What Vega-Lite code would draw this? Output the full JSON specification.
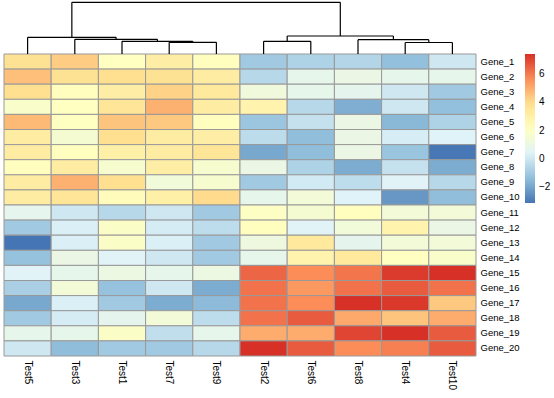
{
  "$schema": "https://vega.github.io/schema/vega-lite/v6.json",
  "width": 472,
  "height": 356,
  "autosize": "none",
  "padding": {"left": 4, "top": 0, "right": 78, "bottom": 42},
  "background": "white",
  "config": {
    "view": {"stroke": null},
    "font": "Liberation Sans",
    "axis": {"labelFont": "Liberation Sans", "labelColor": "black"},
    "legend": {"labelFont": "Liberation Sans", "labelColor": "black"}
  },
  "datasets": {
    "expr": [
      {"gene":"Gene_1","test":"Test5","value":3.8},{"gene":"Gene_1","test":"Test3","value":4.3},{"gene":"Gene_1","test":"Test1","value":2.1},{"gene":"Gene_1","test":"Test7","value":3.1},{"gene":"Gene_1","test":"Test9","value":2.2},{"gene":"Gene_1","test":"Test2","value":-1.0},{"gene":"Gene_1","test":"Test6","value":-0.7},{"gene":"Gene_1","test":"Test8","value":-0.6},{"gene":"Gene_1","test":"Test4","value":-1.3},{"gene":"Gene_1","test":"Test10","value":0.0},
      {"gene":"Gene_2","test":"Test5","value":4.6},{"gene":"Gene_2","test":"Test3","value":3.8},{"gene":"Gene_2","test":"Test1","value":3.9},{"gene":"Gene_2","test":"Test7","value":3.8},{"gene":"Gene_2","test":"Test9","value":3.2},{"gene":"Gene_2","test":"Test2","value":-0.5},{"gene":"Gene_2","test":"Test6","value":0.8},{"gene":"Gene_2","test":"Test8","value":1.0},{"gene":"Gene_2","test":"Test4","value":0.8},{"gene":"Gene_2","test":"Test10","value":0.8},
      {"gene":"Gene_3","test":"Test5","value":3.9},{"gene":"Gene_3","test":"Test3","value":2.2},{"gene":"Gene_3","test":"Test1","value":3.1},{"gene":"Gene_3","test":"Test7","value":4.2},{"gene":"Gene_3","test":"Test9","value":3.4},{"gene":"Gene_3","test":"Test2","value":1.3},{"gene":"Gene_3","test":"Test6","value":0.8},{"gene":"Gene_3","test":"Test8","value":0.7},{"gene":"Gene_3","test":"Test4","value":0.0},{"gene":"Gene_3","test":"Test10","value":-1.0},
      {"gene":"Gene_4","test":"Test5","value":1.8},{"gene":"Gene_4","test":"Test3","value":2.1},{"gene":"Gene_4","test":"Test1","value":3.6},{"gene":"Gene_4","test":"Test7","value":4.9},{"gene":"Gene_4","test":"Test9","value":3.2},{"gene":"Gene_4","test":"Test2","value":2.8},{"gene":"Gene_4","test":"Test6","value":-0.5},{"gene":"Gene_4","test":"Test8","value":-1.75},{"gene":"Gene_4","test":"Test4","value":0.0},{"gene":"Gene_4","test":"Test10","value":-1.3},
      {"gene":"Gene_5","test":"Test5","value":4.7},{"gene":"Gene_5","test":"Test3","value":2.1},{"gene":"Gene_5","test":"Test1","value":4.5},{"gene":"Gene_5","test":"Test7","value":4.4},{"gene":"Gene_5","test":"Test9","value":2.2},{"gene":"Gene_5","test":"Test2","value":-1.1},{"gene":"Gene_5","test":"Test6","value":-0.2},{"gene":"Gene_5","test":"Test8","value":1.0},{"gene":"Gene_5","test":"Test4","value":-1.5},{"gene":"Gene_5","test":"Test10","value":-0.7},
      {"gene":"Gene_6","test":"Test5","value":3.2},{"gene":"Gene_6","test":"Test3","value":1.6},{"gene":"Gene_6","test":"Test1","value":3.9},{"gene":"Gene_6","test":"Test7","value":3.2},{"gene":"Gene_6","test":"Test9","value":3.1},{"gene":"Gene_6","test":"Test2","value":-0.4},{"gene":"Gene_6","test":"Test6","value":-1.35},{"gene":"Gene_6","test":"Test8","value":1.0},{"gene":"Gene_6","test":"Test4","value":0.2},{"gene":"Gene_6","test":"Test10","value":0.4},
      {"gene":"Gene_7","test":"Test5","value":3.2},{"gene":"Gene_7","test":"Test3","value":2.2},{"gene":"Gene_7","test":"Test1","value":3.0},{"gene":"Gene_7","test":"Test7","value":3.2},{"gene":"Gene_7","test":"Test9","value":3.6},{"gene":"Gene_7","test":"Test2","value":-1.9},{"gene":"Gene_7","test":"Test6","value":-1.35},{"gene":"Gene_7","test":"Test8","value":1.0},{"gene":"Gene_7","test":"Test4","value":-1.15},{"gene":"Gene_7","test":"Test10","value":-3.05},
      {"gene":"Gene_8","test":"Test5","value":2.2},{"gene":"Gene_8","test":"Test3","value":3.2},{"gene":"Gene_8","test":"Test1","value":1.7},{"gene":"Gene_8","test":"Test7","value":3.1},{"gene":"Gene_8","test":"Test9","value":1.7},{"gene":"Gene_8","test":"Test2","value":1.0},{"gene":"Gene_8","test":"Test6","value":-0.7},{"gene":"Gene_8","test":"Test8","value":-1.8},{"gene":"Gene_8","test":"Test4","value":-0.2},{"gene":"Gene_8","test":"Test10","value":-1.8},
      {"gene":"Gene_9","test":"Test5","value":3.2},{"gene":"Gene_9","test":"Test3","value":4.9},{"gene":"Gene_9","test":"Test1","value":3.9},{"gene":"Gene_9","test":"Test7","value":1.35},{"gene":"Gene_9","test":"Test9","value":1.7},{"gene":"Gene_9","test":"Test2","value":-1.0},{"gene":"Gene_9","test":"Test6","value":0.1},{"gene":"Gene_9","test":"Test8","value":-0.35},{"gene":"Gene_9","test":"Test4","value":0.45},{"gene":"Gene_9","test":"Test10","value":-0.5},
      {"gene":"Gene_10","test":"Test5","value":3.2},{"gene":"Gene_10","test":"Test3","value":3.6},{"gene":"Gene_10","test":"Test1","value":2.3},{"gene":"Gene_10","test":"Test7","value":3.0},{"gene":"Gene_10","test":"Test9","value":4.0},{"gene":"Gene_10","test":"Test2","value":0.8},{"gene":"Gene_10","test":"Test6","value":1.4},{"gene":"Gene_10","test":"Test8","value":0.4},{"gene":"Gene_10","test":"Test4","value":-2.3},{"gene":"Gene_10","test":"Test10","value":-1.35},
      {"gene":"Gene_11","test":"Test5","value":0.75},{"gene":"Gene_11","test":"Test3","value":0.0},{"gene":"Gene_11","test":"Test1","value":-0.5},{"gene":"Gene_11","test":"Test7","value":0.0},{"gene":"Gene_11","test":"Test9","value":-1.0},{"gene":"Gene_11","test":"Test2","value":2.0},{"gene":"Gene_11","test":"Test6","value":1.6},{"gene":"Gene_11","test":"Test8","value":2.2},{"gene":"Gene_11","test":"Test4","value":1.4},{"gene":"Gene_11","test":"Test10","value":1.4},
      {"gene":"Gene_12","test":"Test5","value":-1.0},{"gene":"Gene_12","test":"Test3","value":0.3},{"gene":"Gene_12","test":"Test1","value":1.9},{"gene":"Gene_12","test":"Test7","value":0.15},{"gene":"Gene_12","test":"Test9","value":-0.35},{"gene":"Gene_12","test":"Test2","value":2.2},{"gene":"Gene_12","test":"Test6","value":0.45},{"gene":"Gene_12","test":"Test8","value":1.35},{"gene":"Gene_12","test":"Test4","value":2.8},{"gene":"Gene_12","test":"Test10","value":1.0},
      {"gene":"Gene_13","test":"Test5","value":-3.1},{"gene":"Gene_13","test":"Test3","value":0.3},{"gene":"Gene_13","test":"Test1","value":1.9},{"gene":"Gene_13","test":"Test7","value":0.3},{"gene":"Gene_13","test":"Test9","value":-1.0},{"gene":"Gene_13","test":"Test2","value":1.2},{"gene":"Gene_13","test":"Test6","value":3.4},{"gene":"Gene_13","test":"Test8","value":0.7},{"gene":"Gene_13","test":"Test4","value":1.4},{"gene":"Gene_13","test":"Test10","value":1.4},
      {"gene":"Gene_14","test":"Test5","value":-1.25},{"gene":"Gene_14","test":"Test3","value":1.0},{"gene":"Gene_14","test":"Test1","value":0.45},{"gene":"Gene_14","test":"Test7","value":0.0},{"gene":"Gene_14","test":"Test9","value":-1.0},{"gene":"Gene_14","test":"Test2","value":0.8},{"gene":"Gene_14","test":"Test6","value":2.8},{"gene":"Gene_14","test":"Test8","value":3.4},{"gene":"Gene_14","test":"Test4","value":2.1},{"gene":"Gene_14","test":"Test10","value":1.8},
      {"gene":"Gene_15","test":"Test5","value":0.45},{"gene":"Gene_15","test":"Test3","value":0.8},{"gene":"Gene_15","test":"Test1","value":1.1},{"gene":"Gene_15","test":"Test7","value":0.8},{"gene":"Gene_15","test":"Test9","value":1.1},{"gene":"Gene_15","test":"Test2","value":6.4},{"gene":"Gene_15","test":"Test6","value":5.65},{"gene":"Gene_15","test":"Test8","value":6.1},{"gene":"Gene_15","test":"Test4","value":7.2},{"gene":"Gene_15","test":"Test10","value":7.4},
      {"gene":"Gene_16","test":"Test5","value":-0.8},{"gene":"Gene_16","test":"Test3","value":1.4},{"gene":"Gene_16","test":"Test1","value":-1.25},{"gene":"Gene_16","test":"Test7","value":0.0},{"gene":"Gene_16","test":"Test9","value":-1.8},{"gene":"Gene_16","test":"Test2","value":6.15},{"gene":"Gene_16","test":"Test6","value":5.4},{"gene":"Gene_16","test":"Test8","value":6.15},{"gene":"Gene_16","test":"Test4","value":6.6},{"gene":"Gene_16","test":"Test10","value":6.15},
      {"gene":"Gene_17","test":"Test5","value":-1.9},{"gene":"Gene_17","test":"Test3","value":0.3},{"gene":"Gene_17","test":"Test1","value":-1.0},{"gene":"Gene_17","test":"Test7","value":-1.8},{"gene":"Gene_17","test":"Test9","value":-1.45},{"gene":"Gene_17","test":"Test2","value":6.15},{"gene":"Gene_17","test":"Test6","value":5.65},{"gene":"Gene_17","test":"Test8","value":7.4},{"gene":"Gene_17","test":"Test4","value":7.25},{"gene":"Gene_17","test":"Test10","value":4.4},
      {"gene":"Gene_18","test":"Test5","value":-1.0},{"gene":"Gene_18","test":"Test3","value":0.15},{"gene":"Gene_18","test":"Test1","value":0.7},{"gene":"Gene_18","test":"Test7","value":1.4},{"gene":"Gene_18","test":"Test9","value":-0.35},{"gene":"Gene_18","test":"Test2","value":6.15},{"gene":"Gene_18","test":"Test6","value":6.6},{"gene":"Gene_18","test":"Test8","value":5.05},{"gene":"Gene_18","test":"Test4","value":4.5},{"gene":"Gene_18","test":"Test10","value":5.0},
      {"gene":"Gene_19","test":"Test5","value":0.8},{"gene":"Gene_19","test":"Test3","value":0.8},{"gene":"Gene_19","test":"Test1","value":1.9},{"gene":"Gene_19","test":"Test7","value":-0.3},{"gene":"Gene_19","test":"Test9","value":0.8},{"gene":"Gene_19","test":"Test2","value":5.0},{"gene":"Gene_19","test":"Test6","value":5.0},{"gene":"Gene_19","test":"Test8","value":7.0},{"gene":"Gene_19","test":"Test4","value":7.4},{"gene":"Gene_19","test":"Test10","value":6.6},
      {"gene":"Gene_20","test":"Test5","value":0.0},{"gene":"Gene_20","test":"Test3","value":-1.4},{"gene":"Gene_20","test":"Test1","value":-1.0},{"gene":"Gene_20","test":"Test7","value":-1.0},{"gene":"Gene_20","test":"Test9","value":-0.5},{"gene":"Gene_20","test":"Test2","value":7.4},{"gene":"Gene_20","test":"Test6","value":6.6},{"gene":"Gene_20","test":"Test8","value":5.65},{"gene":"Gene_20","test":"Test4","value":5.9},{"gene":"Gene_20","test":"Test10","value":6.6}
    ],
    "dendro": [
      {"x":3.5,"x2":4.5,"h":2.34,"h2":2.34},{"x":3.5,"x2":3.5,"h":0,"h2":2.34},{"x":4.5,"x2":4.5,"h":0,"h2":2.34},
      {"x":2.5,"x2":4.0,"h":2.54,"h2":2.54},{"x":2.5,"x2":2.5,"h":0,"h2":2.54},{"x":4.0,"x2":4.0,"h":2.34,"h2":2.54},
      {"x":1.5,"x2":3.25,"h":2.94,"h2":2.94},{"x":1.5,"x2":1.5,"h":0,"h2":2.94},{"x":3.25,"x2":3.25,"h":2.54,"h2":2.94},
      {"x":0.5,"x2":2.375,"h":3.34,"h2":3.34},{"x":0.5,"x2":0.5,"h":0,"h2":3.34},{"x":2.375,"x2":2.375,"h":2.94,"h2":3.34},
      {"x":5.5,"x2":6.5,"h":2.54,"h2":2.54},{"x":5.5,"x2":5.5,"h":0,"h2":2.54},{"x":6.5,"x2":6.5,"h":0,"h2":2.54},
      {"x":8.5,"x2":9.5,"h":2.3,"h2":2.3},{"x":8.5,"x2":8.5,"h":0,"h2":2.3},{"x":9.5,"x2":9.5,"h":0,"h2":2.3},
      {"x":7.5,"x2":9.0,"h":2.86,"h2":2.86},{"x":7.5,"x2":7.5,"h":0,"h2":2.86},{"x":9.0,"x2":9.0,"h":2.3,"h2":2.86},
      {"x":6.0,"x2":8.25,"h":3.6,"h2":3.6},{"x":6.0,"x2":6.0,"h":2.54,"h2":3.6},{"x":8.25,"x2":8.25,"h":2.86,"h2":3.6},
      {"x":1.4375,"x2":7.125,"h":10.34,"h2":10.34},{"x":1.4375,"x2":1.4375,"h":3.34,"h2":10.34},{"x":7.125,"x2":7.125,"h":3.6,"h2":10.34}
    ]
  },
  "layer": [
    {
      "data": {"name": "expr"},
      "mark": {"type": "rect", "stroke": "#999999", "strokeWidth": 1},
      "encoding": {
        "x": {
          "field": "test", "type": "nominal",
          "sort": ["Test5","Test3","Test1","Test7","Test9","Test2","Test6","Test8","Test4","Test10"],
          "scale": {"paddingInner": 0, "paddingOuter": 0},
          "axis": {"orient": "bottom", "title": null, "labelAngle": 90, "labelAlign": "left", "labelBaseline": "middle", "ticks": false, "domain": false, "labelPadding": 4, "labelFontSize": 10}
        },
        "y": {
          "field": "gene", "type": "nominal",
          "sort": ["Gene_1","Gene_2","Gene_3","Gene_4","Gene_5","Gene_6","Gene_7","Gene_8","Gene_9","Gene_10","Gene_11","Gene_12","Gene_13","Gene_14","Gene_15","Gene_16","Gene_17","Gene_18","Gene_19","Gene_20"],
          "scale": {"range": [54, 356], "paddingInner": 0, "paddingOuter": 0},
          "axis": {"orient": "right", "title": null, "ticks": false, "domain": false, "labelPadding": 4, "labelFontSize": 9.5}
        },
        "color": {
          "field": "value", "type": "quantitative",
          "scale": {"domain": [-3.1, -1.35, 0.4, 2.15, 3.9, 5.65, 7.4], "range": ["#4575B4","#91BFDB","#E0F3F8","#FFFFBF","#FEE090","#FC8D59","#D73027"], "interpolate": "rgb"},
          "legend": {"title": null, "orient": "none", "legendX": 521, "legendY": 54, "padding": 0, "values": [-2, 0, 2, 4, 6], "gradientLength": 149, "gradientThickness": 10, "gradientStrokeWidth": 0, "labelFontSize": 10, "labelOffset": 4, "direction": "vertical"}
        }
      }
    },
    {
      "data": {"name": "dendro"},
      "mark": {"type": "rule", "color": "black", "strokeWidth": 1.2},
      "encoding": {
        "x": {"field": "x", "type": "quantitative", "scale": {"domain": [0, 10], "nice": false, "zero": false}, "axis": null},
        "x2": {"field": "x2"},
        "y": {"field": "h", "type": "quantitative", "scale": {"domain": [0, 10.8], "range": [54, 0], "nice": false, "zero": false}, "axis": null},
        "y2": {"field": "h2"}
      }
    }
  ],
  "resolve": {"scale": {"x": "independent", "y": "independent"}, "axis": {"x": "independent", "y": "independent"}}
}
